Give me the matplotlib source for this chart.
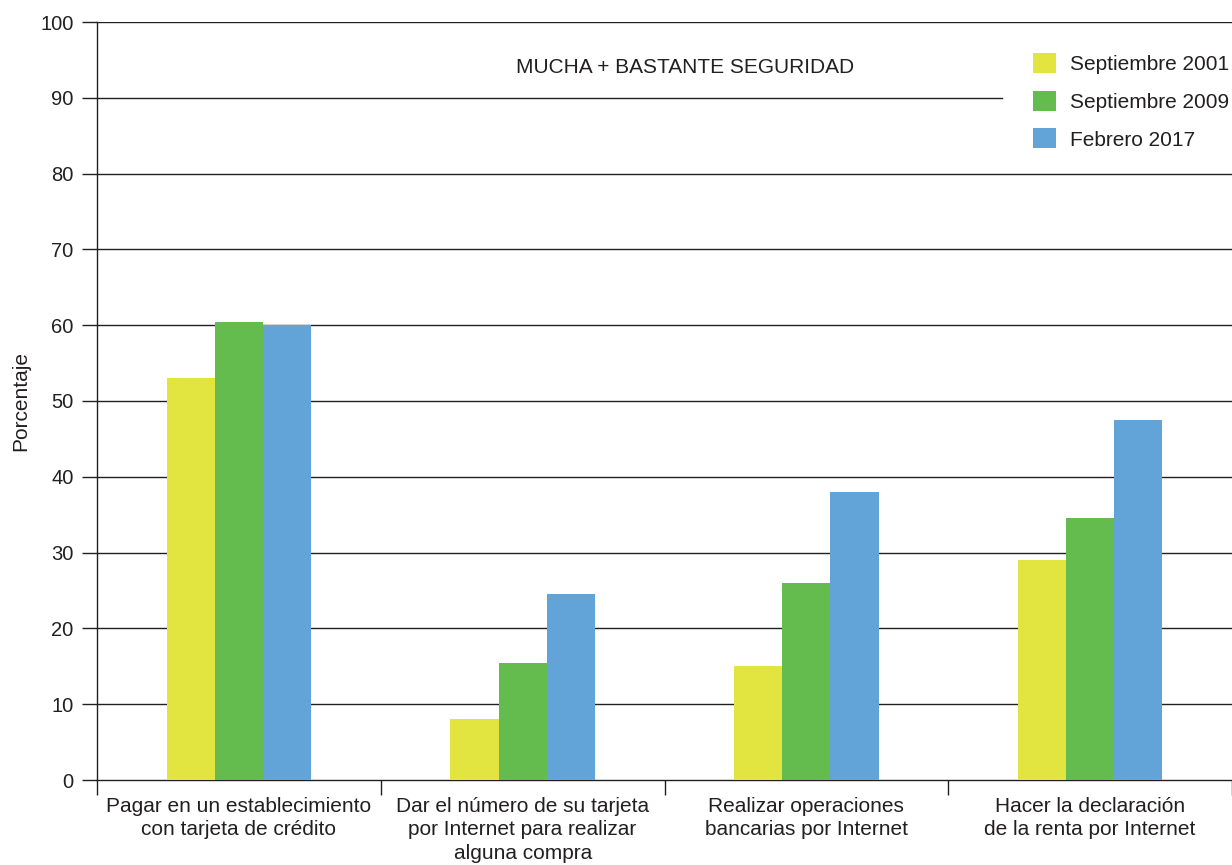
import numpy as np
import matplotlib
matplotlib.use("Agg")
from matplotlib import pyplot as plt
from matplotlib.patches import Patch

plt.rcParams['font.family'] = ['Liberation Sans', 'DejaVu Sans']

categorias = ["Pagar en un establecimiento\ncon tarjeta de crédito",
              "Dar el número de su tarjeta\npor Internet para realizar\nalguna compra",
              "Realizar operaciones\nbancarias por Internet",
              "Hacer la declaración\nde la renta por Internet"]
series = ["Septiembre 2001", "Septiembre 2009", "Febrero 2017"]
sep_2001 = [53, 8, 15, 29]
sep_2009 = [60.4, 15.5, 26, 34.5]
feb_2017 = [60, 24.5, 38, 47.5]
colores = ["#E2E540", "#64BC4F", "#63A4D8"]
yticks = [0, 10, 20, 30, 40, 50, 60, 70, 80, 90, 100]

linea = "#231F20"
fig = plt.figure(figsize=(12.32, 8.65), dpi=100)
ax = fig.add_axes([97/1232, 85/865, 1135/1232, 758/865])

x = np.arange(len(categorias)) + 0.5
w = 0.17
for i, vals in enumerate([sep_2001, sep_2009, feb_2017]):
    ax.bar(x + (i - 1)*w, vals, w, color=colores[i], zorder=3, linewidth=0)

# gridlines (the one at 90 stops before the legend)
for y in yticks[1:]:
    xmax = (1002 - 97)/1135 if y == 90 else 1
    ax.axhline(y, xmin=0, xmax=xmax, color=linea, lw=1.0, zorder=1)

ax.set_xlim(0, 4)
ax.set_ylim(0, 100)
ax.set_yticks(yticks)
ax.set_xticks(x)
ax.set_xticklabels(categorias, fontsize=15, color=linea, linespacing=1.3)
ax.set_xticks(np.arange(5), minor=True)
ax.tick_params(axis='x', which='major', length=0, pad=12)
ax.tick_params(axis='x', which='minor', length=11, width=1.0, color=linea, direction='out')
ax.tick_params(axis='y', length=11, width=1.0, color=linea, pad=6, labelsize=14.5, labelcolor=linea)

for s in ['top', 'right']:
    ax.spines[s].set_visible(False)
for s in ['left', 'bottom']:
    ax.spines[s].set_color(linea)
    ax.spines[s].set_linewidth(1.0)

ax.set_ylabel("Porcentaje", fontsize=15, color=linea, labelpad=7)

ax.text(0.518, 94.0, "MUCHA + BASTANTE SEGURIDAD", transform=ax.get_yaxis_transform(),
        ha='center', va='center', fontsize=15, color=linea)

handles = [Patch(facecolor=c, edgecolor='none') for c in colores]
ax.legend(handles, series, loc='upper left', bbox_to_anchor=((1033-97)/1135, (780-53)/758),
          frameon=False, fontsize=15, handlelength=1.1, handleheight=1.1,
          handletextpad=0.7, labelspacing=0.8, borderpad=0, borderaxespad=0,
          labelcolor=linea)

fig.savefig("out.png", dpi=100)
